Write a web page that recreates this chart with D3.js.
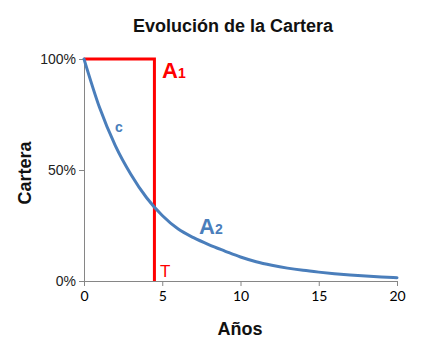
<!DOCTYPE html>
<html><head><meta charset="utf-8">
<script src="https://cdn.jsdelivr.net/npm/d3@7"></script>
<style>body{margin:0;background:#fff}svg{display:block}</style>
</head><body>
<svg id="c" width="425" height="351"></svg>
<script>
const years = [0,1,2,3,4,5,6,7,8,9,10,11,12,13,14,15,16,17,18,19,20];
const cartera = [1.00,0.78,0.61,0.48,0.375,0.295,0.235,0.195,0.163,0.135,0.108,0.087,0.071,0.058,0.048,0.040,0.033,0.027,0.022,0.018,0.015];
const xTicks = [0,5,10,15,20];
const yTicks = [0,0.5,1];
const tPoint = 4.5;
const title = "Evolución de la Cartera";
const xTitle = "Años";
const yTitle = "Cartera";

const svg = d3.select("#c");
const x = d3.scaleLinear().domain([0,20]).range([84,397]);
const y = d3.scaleLinear().domain([0,1]).range([281,59]);
const gray = "#868686";

// axes
const xa = svg.append("g").attr("transform","translate(0,281)")
  .call(d3.axisBottom(x).tickValues(xTicks).tickSize(5).tickPadding(5));
xa.select(".domain").attr("stroke",gray);
xa.selectAll(".tick line").attr("stroke",gray);
xa.selectAll("text").attr("font-family","Lato, 'Liberation Sans', sans-serif").attr("font-size","14px").attr("fill","#000");

const ya = svg.append("g").attr("transform","translate(84,0)")
  .call(d3.axisLeft(y).tickValues(yTicks).tickFormat(d3.format(".0%")).tickSize(5).tickPadding(3));
ya.select(".domain").attr("stroke",gray);
ya.selectAll(".tick line").attr("stroke",gray);
ya.selectAll("text").attr("font-family","'Liberation Sans', Arial, sans-serif").attr("font-size","14px").attr("fill","#222");

// red box
svg.append("path")
  .attr("d", d3.line()([[x(0),y(1)],[x(tPoint),y(1)],[x(tPoint),y(0)]]))
  .attr("fill","none").attr("stroke","#ff0000").attr("stroke-width",3);

// curve
const data = years.map((d,i)=>[d,cartera[i]]);
svg.append("path").datum(data)
  .attr("d", d3.line().x(d=>x(d[0])).y(d=>y(d[1])).curve(d3.curveMonotoneX))
  .attr("fill","none").attr("stroke","#4a7ebb").attr("stroke-width",3).attr("stroke-linecap","round");

const F = "'Liberation Sans', Arial, sans-serif";
svg.append("text").attr("x",233).attr("y",32).attr("text-anchor","middle")
  .attr("font-family",F).attr("font-weight","bold").attr("font-size","18px").attr("fill","#111").text(title);
svg.append("text").attr("x",240).attr("y",335).attr("text-anchor","middle")
  .attr("font-family",F).attr("font-weight","bold").attr("font-size","18px").attr("fill","#111").text(xTitle);
svg.append("text").attr("transform","translate(31,173) rotate(-90)").attr("text-anchor","middle")
  .attr("font-family",F).attr("font-weight","bold").attr("font-size","18px").attr("fill","#111").text(yTitle);

// annotations
const a1 = svg.append("text").attr("x",162).attr("y",78).attr("font-family",F).attr("font-weight","bold").attr("fill","#ff0000");
a1.append("tspan").attr("font-size","22px").text("A");
a1.append("tspan").attr("font-size","14px").text("1");
const a2 = svg.append("text").attr("x",199).attr("y",234).attr("font-family",F).attr("font-weight","bold").attr("fill","#4a7ebb");
a2.append("tspan").attr("font-size","22px").text("A");
a2.append("tspan").attr("font-size","14px").text("2");
svg.append("text").attr("x",115).attr("y",132).attr("font-family",F).attr("font-weight","bold").attr("font-size","14px").attr("fill","#4a7ebb").text("c");
svg.append("text").attr("x",160).attr("y",277).attr("font-family",F).attr("font-size","17px").attr("fill","#ff0000").text("T");
</script>
</body></html>
